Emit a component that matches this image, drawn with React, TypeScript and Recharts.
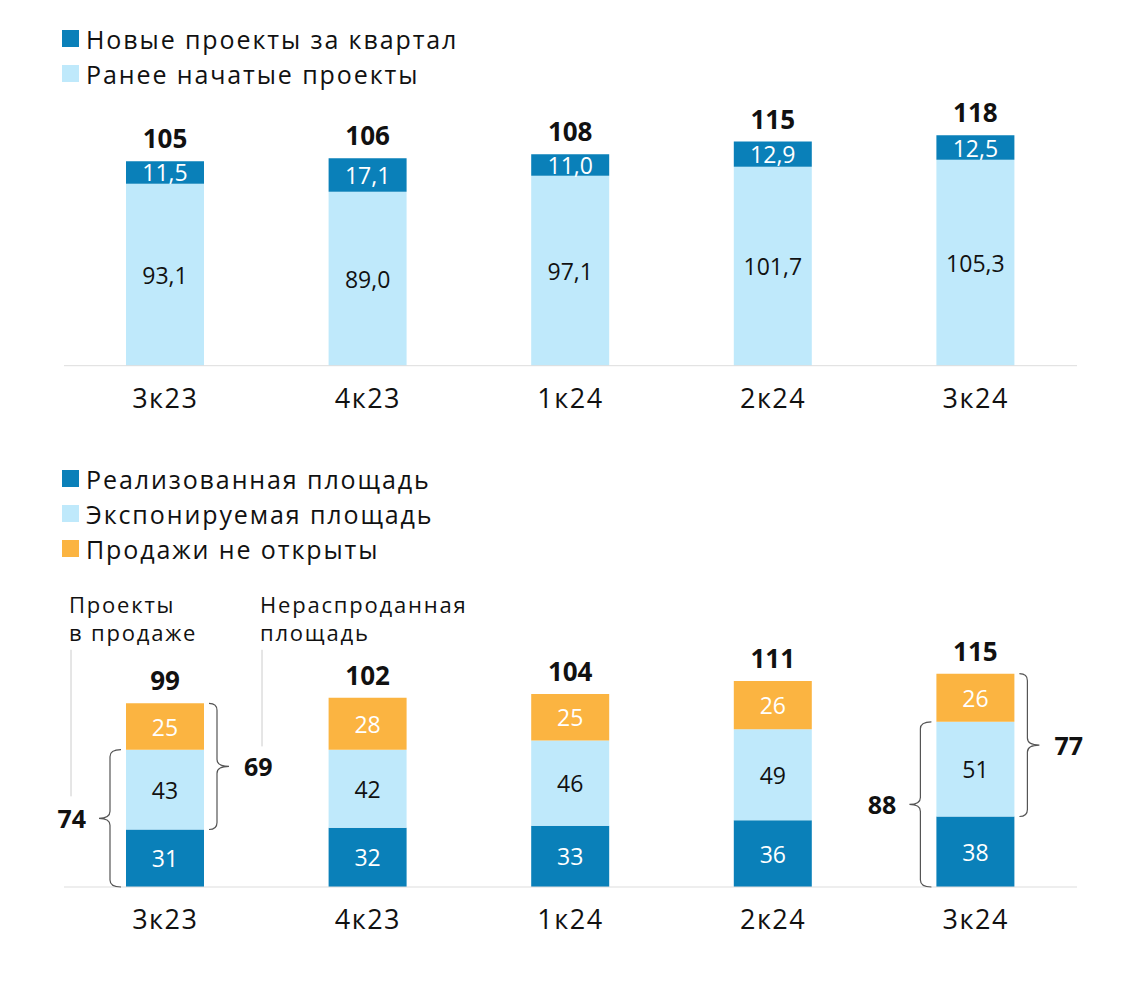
import { BarChart, Bar, XAxis, YAxis, LabelList, Legend } from "recharts";

const quarters = ["3к23", "4к23", "1к24", "2к24", "3к24"];

// верхний график: проекты, шт.
const newProjects = [11.5, 17.1, 11.0, 12.9, 12.5];
const earlierProjects = [93.1, 89.0, 97.1, 101.7, 105.3];
const projectTotals = [105, 106, 108, 115, 118];

// нижний график: площадь
const realizedArea = [31, 32, 33, 36, 38];
const exposedArea = [43, 42, 46, 49, 51];
const notOpened = [25, 28, 25, 26, 26];
const areaTotals = [99, 102, 104, 111, 115];
const inSaleBrace = [74, null, null, null, 88];
const unsoldBrace = [69, null, null, null, 77];

const topLegend = [
  { label: "Новые проекты за квартал", color: "#0a80b9" },
  { label: "Ранее начатые проекты", color: "#bfe9fb" },
];
const bottomLegend = [
  { label: "Реализованная площадь", color: "#0a80b9" },
  { label: "Экспонируемая площадь", color: "#bfe9fb" },
  { label: "Продажи не открыты", color: "#fbb441" },
];

const DARK = "#0a80b9";
const LIGHT = "#bfe9fb";
const ORANGE = "#fbb441";
const FONT = "'Open Sans', sans-serif";
const TOP_MAX = 130;
const AREA_MAX = 130;

const projectData = quarters.map((q, i) => ({
  q,
  earlier: earlierProjects[i],
  fresh: newProjects[i],
}));
const areaData = quarters.map((q, i) => ({
  q,
  realized: realizedArea[i],
  exposed: exposedArea[i],
  closed: notOpened[i],
}));

const comma = (v: number, d: number) => v.toFixed(d).replace(".", ",");

function LegendBox({ items }: { items: { label: string; color: string }[] }) {
  return (
    <div style={{ fontFamily: FONT, fontSize: 25, letterSpacing: 1.9, color: "#111", whiteSpace: "nowrap" }}>
      {items.map((it) => (
        <div key={it.label} style={{ display: "flex", alignItems: "center", height: 35 }}>
          <span style={{ width: 17, height: 17, background: it.color, marginRight: 7, flex: "none" }} />
          <span>{it.label}</span>
        </div>
      ))}
    </div>
  );
}

function segLabel(color: string, decimals: number) {
  return (p: any) => {
    const { x, y, width, height, value } = p;
    return (
      <text
        x={x + width / 2}
        y={y + height / 2}
        textAnchor="middle"
        dominantBaseline="central"
        fill={color}
        fontSize={23}
        fontFamily={FONT}
      >
        {comma(Number(value), decimals)}
      </text>
    );
  };
}

function totalLabel(totals: number[]) {
  return (p: any) => {
    const { x, y, width, index } = p;
    return (
      <text
        x={x + width / 2}
        y={y - 13}
        textAnchor="middle"
        fill="#111"
        fontSize={26}
        fontWeight={700}
        fontFamily={FONT}
      >
        {totals[index]}
      </text>
    );
  };
}

function brace(xe: number, xv: number, xp: number, y0: number, y1: number) {
  const ym = (y0 + y1) / 2;
  const r = 7;
  return `M${xe},${y0} Q${xv},${y0} ${xv},${y0 + r} L${xv},${ym - r} Q${xv},${ym} ${xp},${ym} Q${xv},${ym} ${xv},${ym + r} L${xv},${y1 - r} Q${xv},${y1} ${xe},${y1}`;
}

function BraceLabels(p: any) {
  const { x, y, width, height, index } = p;
  const left = inSaleBrace[index];
  const right = unsoldBrace[index];
  if (left == null && right == null) return null;
  const ppu = height / exposedArea[index];
  const base = y + height + realizedArea[index] * ppu;
  const top = y - notOpened[index] * ppu;
  const plotTop = base - AREA_MAX * ppu;
  const lx = x - 40;
  const rx = x + width + 40;
  const lMid = (y + base) / 2;
  const rMid = (top + y + height) / 2;
  return (
    <g fontFamily={FONT}>
      <path d={brace(x - 5, x - 16, x - 27, y, base)} fill="none" stroke="#555" strokeWidth={1.2} />
      <text x={lx} y={lMid} textAnchor="end" dominantBaseline="central" fontSize={25} fontWeight={700} fill="#111">
        {left}
      </text>
      <path d={brace(x + width + 5, x + width + 13, x + width + 25, top, y + height)} fill="none" stroke="#555" strokeWidth={1.2} />
      <text x={rx} y={rMid} dominantBaseline="central" fontSize={25} fontWeight={700} fill="#111">
        {right}
      </text>
      {index === 0 && (
        <g fontSize={22} letterSpacing={1.8} fill="#111">
          <line x1={lx - 15} x2={lx - 15} y1={plotTop + 4} y2={lMid - 22} stroke="#ccc" />
          <text x={lx - 17} y={plotTop - 33}>Проекты</text>
          <text x={lx - 17} y={plotTop - 5}>в продаже</text>
          <line x1={rx + 18} x2={rx + 18} y1={plotTop + 4} y2={rMid - 20} stroke="#ccc" />
          <text x={rx + 16} y={plotTop - 33}>Нераспроданная</text>
          <text x={rx + 16} y={plotTop - 5}>площадь</text>
        </g>
      )}
    </g>
  );
}

const tickStyle = { fill: "#111", fontSize: 27, fontFamily: FONT, letterSpacing: 1.5 };

export default function App() {
  return (
    <div style={{ position: "absolute", left: 0, top: 0, width: 1126, height: 994, background: "#fff", fontFamily: FONT }}>
      <div style={{ position: "absolute", left: 0, top: 0 }}>
        <BarChart width={1126} height={440} data={projectData} margin={{ top: 111.5, right: 49, left: 64, bottom: 24.3 }} barSize={78}>
          <Legend
            layout="vertical"
            align="center"
            verticalAlign="middle"
            wrapperStyle={{ left: 62, top: 21, width: "auto", height: "auto" }}
            content={() => <LegendBox items={topLegend} />}
          />
          <XAxis dataKey="q" height={50} tickLine={false} stroke="#ddd" tick={tickStyle} tickMargin={17} />
          <YAxis hide domain={[0, TOP_MAX]} />
          <Bar dataKey="earlier" stackId="a" fill={LIGHT} isAnimationActive={false}>
            <LabelList dataKey="earlier" content={segLabel("#111", 1)} />
          </Bar>
          <Bar dataKey="fresh" stackId="a" fill={DARK} isAnimationActive={false}>
            <LabelList dataKey="fresh" content={segLabel("#fff", 1)} />
            <LabelList dataKey="fresh" content={totalLabel(projectTotals)} />
          </Bar>
        </BarChart>
      </div>
      <div style={{ position: "absolute", left: 0, top: 440 }}>
        <BarChart width={1126} height={554} data={areaData} margin={{ top: 205.8, right: 49, left: 64, bottom: 57 }} barSize={78}>
          <Legend
            layout="vertical"
            align="center"
            verticalAlign="middle"
            wrapperStyle={{ left: 62, top: 21, width: "auto", height: "auto" }}
            content={() => <LegendBox items={bottomLegend} />}
          />
          <XAxis dataKey="q" height={50} tickLine={false} stroke="#ddd" tick={tickStyle} tickMargin={17} />
          <YAxis hide domain={[0, AREA_MAX]} />
          <Bar dataKey="realized" stackId="b" fill={DARK} isAnimationActive={false}>
            <LabelList dataKey="realized" content={segLabel("#fff", 0)} />
          </Bar>
          <Bar dataKey="exposed" stackId="b" fill={LIGHT} isAnimationActive={false}>
            <LabelList dataKey="exposed" content={segLabel("#111", 0)} />
            <LabelList dataKey="exposed" content={BraceLabels} />
          </Bar>
          <Bar dataKey="closed" stackId="b" fill={ORANGE} isAnimationActive={false}>
            <LabelList dataKey="closed" content={segLabel("#fff", 0)} />
            <LabelList dataKey="closed" content={totalLabel(areaTotals)} />
          </Bar>
        </BarChart>
      </div>
    </div>
  );
}
